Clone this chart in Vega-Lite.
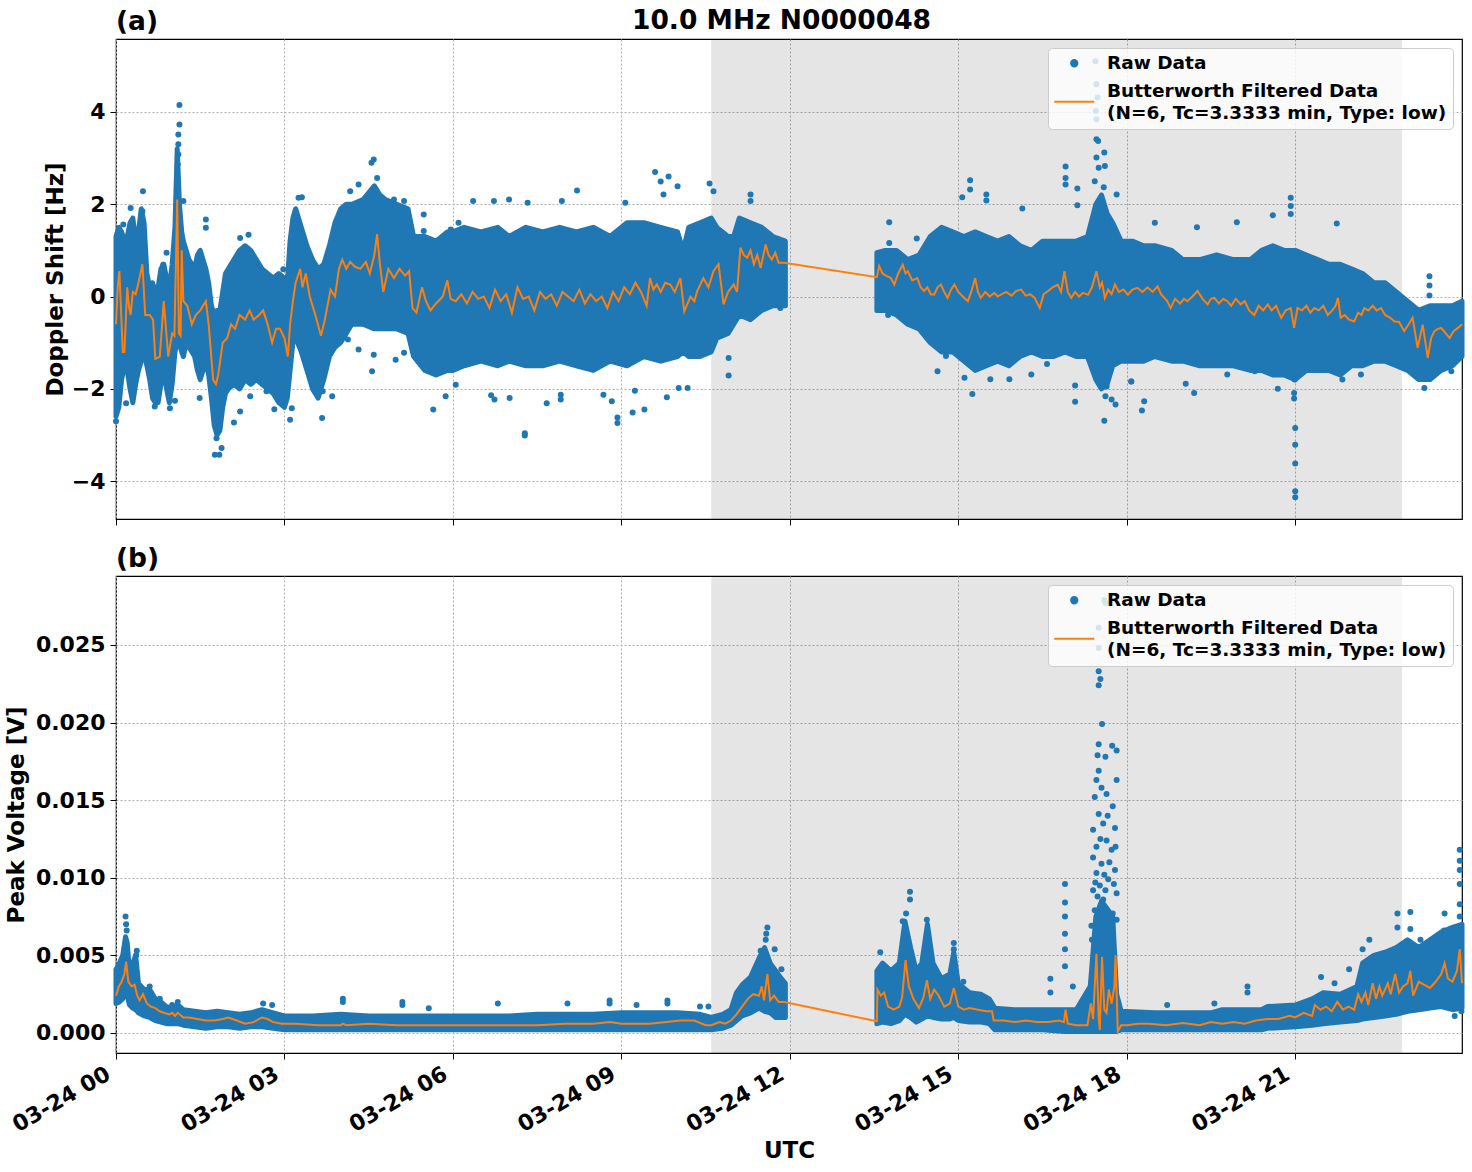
{
"$schema": "https://vega.github.io/schema/vega-lite/v6.json",
"background": "white",
"padding": {"left": 4, "top": 7, "right": 10, "bottom": 5},
"title": {"text": "10.0 MHz N0000048", "anchor": "middle", "dx": 46, "offset": -26.5, "fontSize": 26.5, "font": "DejaVu Sans", "fontWeight": "bold", "color": "black"},
"config": {
 "font": "DejaVu Sans",
 "view": {"stroke": "black", "strokeWidth": 1.2},
 "axis": {"labelFont": "DejaVu Sans", "labelFontWeight": "bold", "labelFontSize": 22, "labelColor": "black", "titleFont": "DejaVu Sans", "titleFontWeight": "bold", "titleFontSize": 23, "titleColor": "black", "tickColor": "black", "tickSize": 6, "tickWidth": 1, "domain": false, "grid": true, "gridColor": "#b0b0b0", "gridDash": [2, 2], "gridWidth": 1, "labelPadding": 5},
 "title": {"font": "DejaVu Sans", "fontWeight": "bold", "fontSize": 26.5, "color": "black"}
},
"datasets": {
 "shade": [{"a": 10.6, "b": 22.9}],
 "dop": [
  {"h":0.00,"lo":-2.6,"hi":1.3,"s":1},{"h":0.05,"lo":-2.4,"hi":1.5,"s":1},{"h":0.10,"lo":-1.8,"hi":1.4,"s":1},{"h":0.15,"lo":-1.5,"hi":1.2,"s":1},{"h":0.20,"lo":-1.6,"hi":1.3,"s":1},{"h":0.25,"lo":-2.0,"hi":1.6,"s":1},{"h":0.30,"lo":-2.3,"hi":1.7,"s":1},{"h":0.35,"lo":-1.9,"hi":1.2,"s":1},{"h":0.40,"lo":-1.6,"hi":1.4,"s":1},{"h":0.45,"lo":-1.4,"hi":1.9,"s":1},{"h":0.50,"lo":-1.2,"hi":1.6,"s":1},{"h":0.55,"lo":-1.5,"hi":0.5,"s":1},{"h":0.60,"lo":-1.8,"hi":0.2,"s":1},{"h":0.65,"lo":-2.2,"hi":0.3,"s":1},{"h":0.70,"lo":-2.3,"hi":0.1,"s":1},{"h":0.75,"lo":-2.3,"hi":0.2,"s":1},{"h":0.80,"lo":-1.9,"hi":0.6,"s":1},{"h":0.85,"lo":-1.6,"hi":0.7,"s":1},{"h":0.90,"lo":-2.0,"hi":0.4,"s":1},{"h":0.95,"lo":-2.3,"hi":0.2,"s":1},{"h":1.00,"lo":-1.9,"hi":0.7,"s":1},{"h":1.05,"lo":-1.2,"hi":1.5,"s":1},{"h":1.09,"lo":-1.0,"hi":3.2,"s":1},{"h":1.13,"lo":-1.0,"hi":2.0,"s":1},{"h":1.17,"lo":-1.2,"hi":1.4,"s":1},{"h":1.20,"lo":-1.3,"hi":1.2,"s":1},{"h":1.25,"lo":-1.0,"hi":1.0,"s":1},{"h":1.30,"lo":-1.1,"hi":0.8,"s":1},{"h":1.40,"lo":-1.3,"hi":0.6,"s":1},{"h":1.45,"lo":-1.6,"hi":0.9,"s":1},{"h":1.50,"lo":-1.8,"hi":1.0,"s":1},{"h":1.55,"lo":-1.6,"hi":0.8,"s":1},{"h":1.60,"lo":-1.4,"hi":0.6,"s":1},{"h":1.65,"lo":-1.7,"hi":0.3,"s":1},{"h":1.70,"lo":-2.2,"hi":-0.2,"s":1},{"h":1.75,"lo":-2.8,"hi":-0.4,"s":1},{"h":1.80,"lo":-3.0,"hi":-0.3,"s":1},{"h":1.85,"lo":-2.9,"hi":-0.3,"s":1},{"h":1.90,"lo":-2.4,"hi":0.1,"s":1},{"h":1.95,"lo":-2.1,"hi":0.5,"s":1},{"h":2.00,"lo":-2.0,"hi":0.6,"s":1},{"h":2.10,"lo":-1.9,"hi":0.8,"s":1},{"h":2.20,"lo":-2.0,"hi":1.0,"s":1},{"h":2.30,"lo":-1.8,"hi":1.1,"s":1},{"h":2.40,"lo":-1.9,"hi":1.0,"s":1},{"h":2.50,"lo":-1.8,"hi":0.8,"s":1},{"h":2.60,"lo":-1.9,"hi":0.6,"s":1},{"h":2.70,"lo":-2.0,"hi":0.5,"s":1},{"h":2.80,"lo":-2.1,"hi":0.4,"s":1},{"h":2.90,"lo":-2.3,"hi":0.5,"s":1},{"h":3.00,"lo":-2.4,"hi":0.4,"s":1},{"h":3.05,"lo":-2.2,"hi":0.3,"s":1},{"h":3.10,"lo":-1.6,"hi":1.2,"s":1},{"h":3.15,"lo":-1.0,"hi":1.7,"s":1},{"h":3.20,"lo":-0.9,"hi":1.9,"s":1},{"h":3.30,"lo":-1.2,"hi":1.5,"s":1},{"h":3.40,"lo":-1.6,"hi":1.1,"s":1},{"h":3.50,"lo":-2.0,"hi":0.8,"s":1},{"h":3.60,"lo":-2.2,"hi":0.6,"s":1},{"h":3.70,"lo":-1.8,"hi":0.7,"s":1},{"h":3.80,"lo":-1.3,"hi":1.1,"s":1},{"h":3.90,"lo":-1.1,"hi":1.6,"s":1},{"h":4.00,"lo":-1.0,"hi":1.9,"s":1},{"h":4.10,"lo":-0.8,"hi":2.0,"s":1},{"h":4.20,"lo":-0.6,"hi":2.0,"s":1},{"h":4.40,"lo":-0.6,"hi":2.1,"s":1},{"h":4.60,"lo":-0.7,"hi":2.4,"s":1},{"h":4.70,"lo":-0.7,"hi":2.2,"s":1},{"h":4.80,"lo":-0.7,"hi":2.1,"s":1},{"h":5.00,"lo":-0.7,"hi":2.0,"s":1},{"h":5.20,"lo":-0.8,"hi":1.9,"s":1},{"h":5.30,"lo":-1.3,"hi":1.3,"s":1},{"h":5.50,"lo":-1.6,"hi":1.3,"s":1},{"h":5.70,"lo":-1.7,"hi":1.2,"s":1},{"h":5.90,"lo":-1.6,"hi":1.4,"s":1},{"h":6.00,"lo":-1.6,"hi":1.4,"s":1},{"h":6.2,"lo":-1.5,"hi":1.5,"s":1},{"h":6.5,"lo":-1.4,"hi":1.4,"s":1},{"h":6.8,"lo":-1.5,"hi":1.5,"s":1},{"h":7.0,"lo":-1.4,"hi":1.3,"s":1},{"h":7.3,"lo":-1.5,"hi":1.5,"s":1},{"h":7.6,"lo":-1.5,"hi":1.4,"s":1},{"h":7.9,"lo":-1.4,"hi":1.5,"s":1},{"h":8.2,"lo":-1.5,"hi":1.4,"s":1},{"h":8.5,"lo":-1.6,"hi":1.5,"s":1},{"h":8.8,"lo":-1.4,"hi":1.3,"s":1},{"h":9.1,"lo":-1.5,"hi":1.6,"s":1},{"h":9.4,"lo":-1.3,"hi":1.6,"s":1},{"h":9.7,"lo":-1.4,"hi":1.5,"s":1},{"h":10.0,"lo":-1.3,"hi":1.4,"s":1},{"h":10.1,"lo":-1.2,"hi":1.0,"s":1},{"h":10.2,"lo":-1.3,"hi":1.5,"s":1},{"h":10.4,"lo":-1.3,"hi":1.6,"s":1},{"h":10.6,"lo":-1.2,"hi":1.7,"s":1},{"h":10.7,"lo":-0.9,"hi":1.5,"s":1},{"h":10.9,"lo":-0.8,"hi":1.3,"s":1},{"h":11.0,"lo":-0.6,"hi":1.3,"s":1},{"h":11.1,"lo":-0.4,"hi":1.7,"s":1},{"h":11.3,"lo":-0.5,"hi":1.6,"s":1},{"h":11.5,"lo":-0.3,"hi":1.5,"s":1},{"h":11.7,"lo":-0.2,"hi":1.3,"s":1},{"h":11.92,"lo":-0.2,"hi":1.2,"s":1},
  {"h":13.55,"lo":-0.3,"hi":0.95,"s":2},{"h":13.7,"lo":-0.3,"hi":1.0,"s":2},{"h":13.9,"lo":-0.4,"hi":1.0,"s":2},{"h":14.1,"lo":-0.6,"hi":0.8,"s":2},{"h":14.3,"lo":-0.7,"hi":0.9,"s":2},{"h":14.5,"lo":-1.0,"hi":1.3,"s":2},{"h":14.7,"lo":-1.2,"hi":1.5,"s":2},{"h":14.9,"lo":-1.2,"hi":1.4,"s":2},{"h":15.1,"lo":-1.4,"hi":1.3,"s":2},{"h":15.3,"lo":-1.6,"hi":1.4,"s":2},{"h":15.5,"lo":-1.5,"hi":1.3,"s":2},{"h":15.7,"lo":-1.4,"hi":1.2,"s":2},{"h":15.9,"lo":-1.5,"hi":1.3,"s":2},{"h":16.1,"lo":-1.3,"hi":1.1,"s":2},{"h":16.3,"lo":-1.2,"hi":1.0,"s":2},{"h":16.5,"lo":-1.3,"hi":1.2,"s":2},{"h":16.7,"lo":-1.3,"hi":1.2,"s":2},{"h":16.9,"lo":-1.2,"hi":1.2,"s":2},{"h":17.1,"lo":-1.3,"hi":1.2,"s":2},{"h":17.3,"lo":-1.3,"hi":1.3,"s":2},{"h":17.45,"lo":-1.8,"hi":2.0,"s":2},{"h":17.55,"lo":-2.0,"hi":2.2,"s":2},{"h":17.65,"lo":-1.9,"hi":1.8,"s":2},{"h":17.75,"lo":-1.5,"hi":1.6,"s":2},{"h":17.9,"lo":-1.4,"hi":1.2,"s":2},{"h":18.1,"lo":-1.4,"hi":1.2,"s":2},{"h":18.3,"lo":-1.4,"hi":1.1,"s":2},{"h":18.5,"lo":-1.3,"hi":1.1,"s":2},{"h":18.8,"lo":-1.4,"hi":1.0,"s":2},{"h":19.0,"lo":-1.4,"hi":0.8,"s":2},{"h":19.3,"lo":-1.5,"hi":0.8,"s":2},{"h":19.6,"lo":-1.5,"hi":0.9,"s":2},{"h":19.9,"lo":-1.5,"hi":0.8,"s":2},{"h":20.2,"lo":-1.6,"hi":0.8,"s":2},{"h":20.4,"lo":-1.6,"hi":1.0,"s":2},{"h":20.6,"lo":-1.7,"hi":1.1,"s":2},{"h":20.8,"lo":-1.7,"hi":1.0,"s":2},{"h":21.0,"lo":-1.8,"hi":1.0,"s":2},{"h":21.2,"lo":-1.6,"hi":0.9,"s":2},{"h":21.4,"lo":-1.6,"hi":0.8,"s":2},{"h":21.6,"lo":-1.6,"hi":0.7,"s":2},{"h":21.8,"lo":-1.7,"hi":0.7,"s":2},{"h":22.0,"lo":-1.5,"hi":0.6,"s":2},{"h":22.2,"lo":-1.5,"hi":0.5,"s":2},{"h":22.4,"lo":-1.4,"hi":0.3,"s":2},{"h":22.6,"lo":-1.4,"hi":0.3,"s":2},{"h":22.8,"lo":-1.5,"hi":0.1,"s":2},{"h":23.0,"lo":-1.6,"hi":-0.1,"s":2},{"h":23.2,"lo":-1.8,"hi":-0.3,"s":2},{"h":23.4,"lo":-1.8,"hi":-0.2,"s":2},{"h":23.6,"lo":-1.6,"hi":-0.2,"s":2},{"h":23.8,"lo":-1.5,"hi":-0.2,"s":2},{"h":23.97,"lo":-1.3,"hi":-0.1,"s":2}
 ],
 "dfilt": [
  {"h":0.0,"v":-0.6},{"h":0.03,"v":0.2},{"h":0.06,"v":0.55},{"h":0.09,"v":-0.3},{"h":0.12,"v":-1.2},{"h":0.15,"v":-1.2},{"h":0.2,"v":0.2},{"h":0.23,"v":-0.2},{"h":0.26,"v":-0.4},{"h":0.3,"v":0.1},{"h":0.35,"v":0.05},{"h":0.4,"v":0.3},{"h":0.47,"v":0.7},{"h":0.52,"v":-0.4},{"h":0.6,"v":-0.4},{"h":0.66,"v":-0.5},{"h":0.7,"v":-1.35},{"h":0.78,"v":-1.3},{"h":0.85,"v":-0.1},{"h":0.93,"v":-1.3},{"h":1.0,"v":-0.8},{"h":1.04,"v":-0.85},{"h":1.09,"v":2.1},{"h":1.12,"v":-0.8},{"h":1.15,"v":-0.85},{"h":1.17,"v":1.0},{"h":1.2,"v":-0.1},{"h":1.27,"v":-0.2},{"h":1.35,"v":-0.6},{"h":1.42,"v":-0.4},{"h":1.5,"v":-0.3},{"h":1.6,"v":-0.1},{"h":1.65,"v":-0.6},{"h":1.73,"v":-1.8},{"h":1.78,"v":-1.9},{"h":1.82,"v":-1.7},{"h":1.9,"v":-1.0},{"h":1.98,"v":-0.9},{"h":2.05,"v":-0.6},{"h":2.12,"v":-0.7},{"h":2.2,"v":-0.4},{"h":2.3,"v":-0.5},{"h":2.38,"v":-0.3},{"h":2.45,"v":-0.5},{"h":2.55,"v":-0.4},{"h":2.62,"v":-0.3},{"h":2.7,"v":-0.6},{"h":2.78,"v":-1.0},{"h":2.85,"v":-0.7},{"h":2.92,"v":-0.7},{"h":3.0,"v":-0.9},{"h":3.06,"v":-1.3},{"h":3.1,"v":-0.6},{"h":3.15,"v":-0.1},{"h":3.2,"v":0.3},{"h":3.28,"v":0.6},{"h":3.32,"v":0.2},{"h":3.38,"v":0.5},{"h":3.45,"v":0.0},{"h":3.55,"v":-0.4},{"h":3.65,"v":-0.85},{"h":3.72,"v":-0.5},{"h":3.82,"v":0.15},{"h":3.9,"v":0.0},{"h":3.97,"v":0.6},{"h":4.03,"v":0.8},{"h":4.1,"v":0.6},{"h":4.17,"v":0.75},{"h":4.25,"v":0.65},{"h":4.35,"v":0.6},{"h":4.45,"v":0.75},{"h":4.52,"v":0.5},{"h":4.6,"v":0.9},{"h":4.65,"v":1.35},{"h":4.7,"v":0.7},{"h":4.76,"v":0.1},{"h":4.85,"v":0.6},{"h":4.95,"v":0.4},{"h":5.05,"v":0.6},{"h":5.15,"v":0.45},{"h":5.22,"v":0.55},{"h":5.28,"v":-0.25},{"h":5.35,"v":-0.35},{"h":5.45,"v":0.2},{"h":5.52,"v":-0.1},{"h":5.6,"v":-0.3},{"h":5.7,"v":-0.15},{"h":5.82,"v":0.0},{"h":5.9,"v":0.35},{"h":5.96,"v":-0.05},{"h":6.05,"v":-0.1},
  {"h":6.15,"v":0.05},{"h":6.25,"v":-0.15},{"h":6.35,"v":0.1},{"h":6.45,"v":-0.05},{"h":6.55,"v":0.0},{"h":6.65,"v":-0.25},{"h":6.75,"v":0.15},{"h":6.85,"v":-0.1},{"h":6.95,"v":0.05},{"h":7.05,"v":-0.35},{"h":7.15,"v":0.2},{"h":7.25,"v":-0.05},{"h":7.35,"v":0.0},{"h":7.45,"v":-0.3},{"h":7.55,"v":0.1},{"h":7.65,"v":-0.05},{"h":7.75,"v":0.05},{"h":7.85,"v":-0.2},{"h":7.95,"v":0.1},{"h":8.05,"v":0.0},{"h":8.15,"v":-0.1},{"h":8.25,"v":0.15},{"h":8.35,"v":-0.15},{"h":8.45,"v":0.05},{"h":8.55,"v":-0.1},{"h":8.65,"v":0.0},{"h":8.75,"v":-0.25},{"h":8.85,"v":0.1},{"h":8.95,"v":-0.1},{"h":9.05,"v":0.2},{"h":9.15,"v":0.05},{"h":9.25,"v":0.3},{"h":9.35,"v":0.1},{"h":9.45,"v":-0.2},{"h":9.51,"v":0.4},{"h":9.57,"v":0.15},{"h":9.63,"v":0.26},{"h":9.7,"v":0.1},{"h":9.78,"v":0.3},{"h":9.87,"v":0.26},{"h":9.95,"v":0.1},{"h":10.05,"v":0.4},{"h":10.12,"v":-0.32},{"h":10.23,"v":0.0},{"h":10.3,"v":-0.1},{"h":10.35,"v":0.12},{"h":10.46,"v":0.4},{"h":10.55,"v":0.2},{"h":10.64,"v":0.55},{"h":10.73,"v":0.7},{"h":10.82,"v":-0.17},{"h":10.9,"v":0.1},{"h":11.0,"v":0.26},{"h":11.06,"v":0.1},{"h":11.12,"v":1.06},{"h":11.18,"v":0.9},{"h":11.24,"v":0.84},{"h":11.3,"v":1.0},{"h":11.36,"v":0.7},{"h":11.42,"v":0.9},{"h":11.48,"v":0.62},{"h":11.57,"v":1.13},{"h":11.62,"v":0.9},{"h":11.68,"v":0.8},{"h":11.74,"v":0.95},{"h":11.8,"v":0.73},{"h":11.9,"v":0.73},
  {"h":13.55,"v":0.42},{"h":13.59,"v":0.66},{"h":13.65,"v":0.5},{"h":13.72,"v":0.45},{"h":13.8,"v":0.4},{"h":13.86,"v":0.26},{"h":13.93,"v":0.5},{"h":14.01,"v":0.69},{"h":14.06,"v":0.5},{"h":14.1,"v":0.55},{"h":14.18,"v":0.35},{"h":14.27,"v":0.4},{"h":14.33,"v":0.2},{"h":14.39,"v":0.12},{"h":14.45,"v":0.2},{"h":14.51,"v":0.05},{"h":14.57,"v":0.04},{"h":14.63,"v":0.2},{"h":14.69,"v":0.26},{"h":14.75,"v":0.1},{"h":14.81,"v":-0.03},{"h":14.87,"v":0.15},{"h":14.93,"v":0.26},{"h":15.0,"v":0.1},{"h":15.08,"v":0.0},{"h":15.17,"v":-0.1},{"h":15.23,"v":0.1},{"h":15.3,"v":0.4},{"h":15.35,"v":0.1},{"h":15.4,"v":-0.03},{"h":15.48,"v":0.1},{"h":15.56,"v":0.0},{"h":15.64,"v":0.08},{"h":15.7,"v":0.0},{"h":15.76,"v":0.04},{"h":15.85,"v":0.1},{"h":15.95,"v":0.02},{"h":16.03,"v":0.12},{"h":16.12,"v":0.15},{"h":16.2,"v":0.02},{"h":16.28,"v":0.05},{"h":16.36,"v":-0.03},{"h":16.45,"v":-0.25},{"h":16.52,"v":0.05},{"h":16.6,"v":0.12},{"h":16.68,"v":0.2},{"h":16.77,"v":0.26},{"h":16.83,"v":0.1},{"h":16.89,"v":0.55},{"h":16.95,"v":0.1},{"h":17.01,"v":-0.03},{"h":17.08,"v":0.1},{"h":17.15,"v":0.0},{"h":17.22,"v":0.08},{"h":17.31,"v":0.04},{"h":17.38,"v":0.2},{"h":17.46,"v":0.55},{"h":17.52,"v":0.2},{"h":17.56,"v":0.3},{"h":17.61,"v":-0.03},{"h":17.67,"v":0.15},{"h":17.73,"v":0.05},{"h":17.79,"v":0.26},{"h":17.86,"v":0.1},{"h":17.94,"v":0.15},{"h":18.02,"v":0.04},{"h":18.1,"v":0.15},{"h":18.19,"v":0.19},{"h":18.28,"v":0.1},{"h":18.37,"v":0.2},{"h":18.46,"v":0.1},{"h":18.55,"v":0.22},{"h":18.61,"v":0.05},{"h":18.67,"v":-0.03},{"h":18.72,"v":-0.1},{"h":18.78,"v":-0.25},{"h":18.86,"v":-0.05},{"h":18.95,"v":-0.15},{"h":19.02,"v":-0.05},{"h":19.08,"v":-0.1},{"h":19.17,"v":0.0},{"h":19.26,"v":0.12},{"h":19.35,"v":-0.05},{"h":19.44,"v":-0.17},{"h":19.5,"v":-0.05},{"h":19.56,"v":-0.03},{"h":19.64,"v":-0.15},{"h":19.72,"v":-0.05},{"h":19.79,"v":-0.1},{"h":19.86,"v":-0.2},{"h":19.94,"v":-0.05},{"h":20.03,"v":-0.17},{"h":20.1,"v":-0.1},{"h":20.18,"v":-0.3},{"h":20.27,"v":-0.4},{"h":20.35,"v":-0.2},{"h":20.43,"v":-0.3},{"h":20.51,"v":-0.17},{"h":20.58,"v":-0.3},{"h":20.66,"v":-0.2},{"h":20.75,"v":-0.46},{"h":20.83,"v":-0.3},{"h":20.92,"v":-0.25},{"h":20.98,"v":-0.68},{"h":21.04,"v":-0.25},{"h":21.12,"v":-0.3},{"h":21.2,"v":-0.2},{"h":21.27,"v":-0.35},{"h":21.34,"v":-0.25},{"h":21.42,"v":-0.3},{"h":21.5,"v":-0.2},{"h":21.58,"v":-0.4},{"h":21.66,"v":-0.3},{"h":21.72,"v":-0.2},{"h":21.76,"v":-0.03},{"h":21.81,"v":-0.46},{"h":21.88,"v":-0.4},{"h":21.96,"v":-0.5},{"h":22.05,"v":-0.54},{"h":22.12,"v":-0.35},{"h":22.18,"v":-0.4},{"h":22.23,"v":-0.25},{"h":22.3,"v":-0.3},{"h":22.38,"v":-0.2},{"h":22.45,"v":-0.3},{"h":22.53,"v":-0.25},{"h":22.6,"v":-0.4},{"h":22.68,"v":-0.45},{"h":22.77,"v":-0.54},{"h":22.85,"v":-0.55},{"h":22.94,"v":-0.75},{"h":23.02,"v":-0.6},{"h":23.09,"v":-0.46},{"h":23.18,"v":-1.11},{"h":23.27,"v":-0.61},{"h":23.36,"v":-1.33},{"h":23.42,"v":-0.9},{"h":23.48,"v":-0.75},{"h":23.54,"v":-0.7},{"h":23.6,"v":-0.68},{"h":23.68,"v":-0.8},{"h":23.75,"v":-0.9},{"h":23.82,"v":-0.75},{"h":23.9,"v":-0.68},{"h":23.97,"v":-0.6}
 ],
 "dout": [
  {"h":0.48,"v":2.28},{"h":0.47,"v":1.85},{"h":0.26,"v":1.92},{"h":0.13,"v":1.56},{"h":1.13,"v":4.15},{"h":1.13,"v":3.73},{"h":1.11,"v":3.51},{"h":1.11,"v":3.3},{"h":1.11,"v":3.08},{"h":1.1,"v":2.86},{"h":1.2,"v":2.07},{"h":1.6,"v":1.67},{"h":1.6,"v":1.49},{"h":0.84,"v":0.69},{"h":0.9,"v":0.95},{"h":1.05,"v":-2.26},{"h":0.96,"v":-2.42},{"h":0.69,"v":-2.38},{"h":0.18,"v":-2.31},{"h":0.0,"v":-2.7},{"h":1.76,"v":-3.43},{"h":1.84,"v":-3.43},{"h":1.88,"v":-3.28},{"h":1.79,"v":-3.07},{"h":1.49,"v":-2.2},{"h":2.1,"v":-2.73},{"h":2.21,"v":-2.49},{"h":2.39,"v":-2.16},{"h":2.68,"v":-2.05},{"h":2.82,"v":-2.44},{"h":3.1,"v":-2.67},{"h":3.13,"v":-2.42},{"h":3.67,"v":-2.63},{"h":3.68,"v":-2.05},{"h":3.85,"v":-2.16},{"h":2.21,"v":1.27},{"h":2.36,"v":1.34},{"h":2.98,"v":0.59},{"h":3.25,"v":2.14},{"h":3.31,"v":2.15},{"h":4.17,"v":2.28},{"h":4.32,"v":2.43},{"h":4.55,"v":2.9},{"h":4.59,"v":2.97},{"h":4.65,"v":2.57},{"h":4.95,"v":2.1},{"h":5.13,"v":2.07},{"h":5.48,"v":1.78},{"h":5.48,"v":1.42},{"h":5.96,"v":1.45},{"h":6.1,"v":1.6},{"h":4.13,"v":-0.93},{"h":4.32,"v":-1.15},{"h":4.56,"v":-1.62},{"h":4.59,"v":-1.26},{"h":4.98,"v":-1.37},{"h":5.13,"v":-1.22},{"h":5.65,"v":-2.45},{"h":5.87,"v":-2.16},{"h":5.51,"v":-1.55},
  {"h":6.36,"v":2.07},{"h":6.73,"v":2.07},{"h":7.0,"v":2.1},{"h":7.33,"v":2.03},{"h":8.21,"v":2.3},{"h":7.94,"v":2.07},{"h":9.07,"v":2.03},{"h":9.6,"v":2.7},{"h":9.7,"v":2.49},{"h":9.84,"v":2.6},{"h":10.0,"v":2.39},{"h":9.75,"v":2.21},{"h":10.57,"v":2.45},{"h":10.64,"v":2.28},{"h":11.3,"v":2.21},{"h":11.3,"v":2.07},{"h":7.28,"v":-2.96},{"h":7.28,"v":-3.01},{"h":6.68,"v":-2.14},{"h":6.74,"v":-2.23},{"h":7.01,"v":-2.2},{"h":7.67,"v":-2.31},{"h":7.92,"v":-2.13},{"h":7.92,"v":-2.23},{"h":8.68,"v":-2.13},{"h":8.83,"v":-2.27},{"h":8.93,"v":-2.62},{"h":8.93,"v":-2.74},{"h":9.2,"v":-2.51},{"h":9.41,"v":-2.45},{"h":9.81,"v":-2.18},{"h":10.02,"v":-1.98},{"h":10.18,"v":-1.98},{"h":10.91,"v":-1.71},{"h":10.91,"v":-1.33},{"h":11.68,"v":-0.14},{"h":11.83,"v":-0.25},{"h":9.24,"v":-2.04},{"h":6.05,"v":-1.91},
  {"h":13.77,"v":1.61},{"h":13.77,"v":1.16},{"h":14.26,"v":1.26},{"h":14.24,"v":-0.61},{"h":13.75,"v":-0.4},{"h":15.07,"v":2.15},{"h":15.21,"v":2.52},{"h":15.21,"v":2.32},{"h":15.5,"v":2.21},{"h":15.5,"v":2.08},{"h":16.14,"v":1.91},{"h":16.91,"v":2.82},{"h":16.91,"v":2.57},{"h":16.91,"v":2.43},{"h":17.12,"v":2.34},{"h":17.12,"v":1.98},{"h":17.82,"v":2.21},{"h":17.46,"v":3.41},{"h":17.49,"v":3.37},{"h":17.46,"v":3.01},{"h":17.6,"v":3.12},{"h":17.61,"v":2.83},{"h":17.5,"v":2.79},{"h":17.43,"v":2.5},{"h":17.59,"v":2.37},{"h":17.48,"v":4.31},{"h":17.45,"v":4.02},{"h":17.44,"v":5.1},{"h":17.46,"v":4.6},{"h":17.46,"v":3.84},{"h":15.25,"v":-2.11},{"h":15.11,"v":-1.76},{"h":15.57,"v":-1.79},{"h":15.91,"v":-1.79},{"h":16.3,"v":-1.69},{"h":16.58,"v":-1.46},{"h":17.08,"v":-1.93},{"h":17.08,"v":-2.28},{"h":17.6,"v":-2.69},{"h":17.62,"v":-2.16},{"h":17.73,"v":-2.23},{"h":17.8,"v":-2.34},{"h":17.64,"v":-1.95},{"h":18.08,"v":-1.84},{"h":14.63,"v":-1.62},{"h":14.78,"v":-1.29},
  {"h":18.5,"v":1.6},{"h":19.25,"v":1.5},{"h":19.96,"v":1.61},{"h":20.6,"v":1.76},{"h":20.92,"v":2.14},{"h":20.92,"v":1.96},{"h":20.92,"v":1.79},{"h":21.74,"v":1.58},{"h":23.39,"v":0.44},{"h":23.39,"v":0.24},{"h":23.39,"v":0.02},{"h":20.98,"v":-2.09},{"h":20.98,"v":-2.21},{"h":21.0,"v":-2.85},{"h":21.0,"v":-3.21},{"h":21.0,"v":-3.62},{"h":21.0,"v":-4.22},{"h":21.0,"v":-4.35},{"h":20.99,"v":-1.8},{"h":18.31,"v":-2.27},{"h":18.27,"v":-2.47},{"h":19.2,"v":-2.09},{"h":19.05,"v":-1.89},{"h":20.69,"v":-2.0},{"h":21.84,"v":-1.8},{"h":22.17,"v":-1.69},{"h":23.3,"v":-1.98},{"h":23.78,"v":-1.62},{"h":18.08,"v":-1.84},{"h":19.79,"v":-1.69},{"h":20.28,"v":-1.62}
 ],
 "vol": [
  {"h":0.00,"lo":0.0019,"hi":0.0041,"s":1},{"h":0.06,"lo":0.0020,"hi":0.0045,"s":1},{"h":0.12,"lo":0.0022,"hi":0.0050,"s":1},{"h":0.17,"lo":0.0026,"hi":0.0062,"s":1},{"h":0.20,"lo":0.0024,"hi":0.0058,"s":1},{"h":0.24,"lo":0.0018,"hi":0.0040,"s":1},{"h":0.30,"lo":0.0016,"hi":0.0045,"s":1},{"h":0.35,"lo":0.0015,"hi":0.0050,"s":1},{"h":0.40,"lo":0.0013,"hi":0.0032,"s":1},{"h":0.50,"lo":0.0011,"hi":0.0028,"s":1},{"h":0.60,"lo":0.0010,"hi":0.0028,"s":1},{"h":0.70,"lo":0.0008,"hi":0.0022,"s":1},{"h":0.80,"lo":0.0007,"hi":0.0020,"s":1},{"h":0.90,"lo":0.0006,"hi":0.0017,"s":1},{"h":1.00,"lo":0.0006,"hi":0.0016,"s":1},{"h":1.10,"lo":0.0006,"hi":0.0018,"s":1},{"h":1.20,"lo":0.0005,"hi":0.0015,"s":1},{"h":1.40,"lo":0.0004,"hi":0.0014,"s":1},{"h":1.60,"lo":0.0003,"hi":0.0013,"s":1},{"h":1.80,"lo":0.0004,"hi":0.0014,"s":1},{"h":2.00,"lo":0.0004,"hi":0.0013,"s":1},{"h":2.20,"lo":0.0003,"hi":0.0012,"s":1},{"h":2.40,"lo":0.0004,"hi":0.0013,"s":1},{"h":2.60,"lo":0.0004,"hi":0.0015,"s":1},{"h":2.80,"lo":0.0003,"hi":0.0013,"s":1},{"h":3.00,"lo":0.0002,"hi":0.0011,"s":1},{"h":3.5,"lo":0.0002,"hi":0.0011,"s":1},{"h":4.0,"lo":0.0002,"hi":0.0012,"s":1},{"h":4.5,"lo":0.0002,"hi":0.0011,"s":1},{"h":5.0,"lo":0.0002,"hi":0.0011,"s":1},{"h":5.5,"lo":0.0002,"hi":0.0011,"s":1},{"h":6.0,"lo":0.0002,"hi":0.0011,"s":1},{"h":6.5,"lo":0.0002,"hi":0.0011,"s":1},{"h":7.0,"lo":0.0002,"hi":0.0011,"s":1},{"h":7.5,"lo":0.0002,"hi":0.0012,"s":1},{"h":8.0,"lo":0.0002,"hi":0.0012,"s":1},{"h":8.5,"lo":0.0002,"hi":0.0012,"s":1},{"h":9.0,"lo":0.0002,"hi":0.0013,"s":1},{"h":9.5,"lo":0.0002,"hi":0.0013,"s":1},{"h":10.0,"lo":0.0002,"hi":0.0013,"s":1},{"h":10.4,"lo":0.0002,"hi":0.0012,"s":1},{"h":10.6,"lo":0.0002,"hi":0.0010,"s":1},{"h":10.8,"lo":0.0003,"hi":0.0012,"s":1},{"h":10.95,"lo":0.0005,"hi":0.0015,"s":1},{"h":11.05,"lo":0.0008,"hi":0.0026,"s":1},{"h":11.15,"lo":0.0011,"hi":0.0031,"s":1},{"h":11.3,"lo":0.0013,"hi":0.0036,"s":1},{"h":11.45,"lo":0.0016,"hi":0.0048,"s":1},{"h":11.55,"lo":0.0014,"hi":0.0055,"s":1},{"h":11.65,"lo":0.0013,"hi":0.0045,"s":1},{"h":11.75,"lo":0.0010,"hi":0.0040,"s":1},{"h":11.85,"lo":0.0010,"hi":0.0035,"s":1},{"h":11.92,"lo":0.0010,"hi":0.0032,"s":1},
  {"h":13.55,"lo":0.0006,"hi":0.0040,"s":2},{"h":13.65,"lo":0.0007,"hi":0.0045,"s":2},{"h":13.8,"lo":0.0006,"hi":0.0040,"s":2},{"h":13.95,"lo":0.0008,"hi":0.0045,"s":2},{"h":14.05,"lo":0.0012,"hi":0.0072,"s":2},{"h":14.15,"lo":0.0010,"hi":0.0055,"s":2},{"h":14.25,"lo":0.0007,"hi":0.0040,"s":2},{"h":14.35,"lo":0.0009,"hi":0.0045,"s":2},{"h":14.45,"lo":0.0011,"hi":0.0070,"s":2},{"h":14.55,"lo":0.0010,"hi":0.0045,"s":2},{"h":14.7,"lo":0.0009,"hi":0.0035,"s":2},{"h":14.85,"lo":0.0009,"hi":0.0038,"s":2},{"h":14.92,"lo":0.0010,"hi":0.0052,"s":2},{"h":15.0,"lo":0.0008,"hi":0.0032,"s":2},{"h":15.2,"lo":0.0007,"hi":0.0026,"s":2},{"h":15.4,"lo":0.0007,"hi":0.0025,"s":2},{"h":15.55,"lo":0.0006,"hi":0.0022,"s":2},{"h":15.65,"lo":0.0002,"hi":0.0016,"s":2},{"h":16.0,"lo":0.0002,"hi":0.0015,"s":2},{"h":16.5,"lo":0.0002,"hi":0.0015,"s":2},{"h":16.9,"lo":0.0001,"hi":0.0015,"s":2},{"h":17.1,"lo":0.0001,"hi":0.0015,"s":2},{"h":17.35,"lo":0.0001,"hi":0.0030,"s":2},{"h":17.45,"lo":0.0001,"hi":0.0075,"s":2},{"h":17.55,"lo":0.0001,"hi":0.0085,"s":2},{"h":17.65,"lo":0.0001,"hi":0.0080,"s":2},{"h":17.75,"lo":0.0001,"hi":0.0075,"s":2},{"h":17.82,"lo":0.0001,"hi":0.0025,"s":2},{"h":17.9,"lo":0.0002,"hi":0.0014,"s":2},{"h":18.5,"lo":0.0002,"hi":0.0013,"s":2},{"h":19.0,"lo":0.0002,"hi":0.0013,"s":2},{"h":19.5,"lo":0.0002,"hi":0.0013,"s":2},{"h":19.7,"lo":0.0002,"hi":0.0015,"s":2},{"h":20.1,"lo":0.0002,"hi":0.0015,"s":2},{"h":20.4,"lo":0.0002,"hi":0.0015,"s":2},{"h":20.5,"lo":0.0003,"hi":0.0017,"s":2},{"h":21.0,"lo":0.0004,"hi":0.0018,"s":2},{"h":21.3,"lo":0.0005,"hi":0.0022,"s":2},{"h":21.5,"lo":0.0006,"hi":0.0026,"s":2},{"h":21.8,"lo":0.0007,"hi":0.0025,"s":2},{"h":22.1,"lo":0.0008,"hi":0.0030,"s":2},{"h":22.2,"lo":0.0009,"hi":0.0045,"s":2},{"h":22.4,"lo":0.0010,"hi":0.0050,"s":2},{"h":22.6,"lo":0.0011,"hi":0.0052,"s":2},{"h":22.8,"lo":0.0012,"hi":0.0055,"s":2},{"h":23.0,"lo":0.0014,"hi":0.0060,"s":2},{"h":23.2,"lo":0.0015,"hi":0.0055,"s":2},{"h":23.4,"lo":0.0016,"hi":0.0060,"s":2},{"h":23.6,"lo":0.0017,"hi":0.0065,"s":2},{"h":23.8,"lo":0.0015,"hi":0.0068,"s":2},{"h":23.97,"lo":0.0016,"hi":0.0070,"s":2}
 ],
 "vfilt": [
  {"h":0.0,"v":0.0024},{"h":0.05,"v":0.0030},{"h":0.1,"v":0.0033},{"h":0.15,"v":0.0038},{"h":0.18,"v":0.0046},{"h":0.22,"v":0.0033},{"h":0.28,"v":0.0030},{"h":0.33,"v":0.0031},{"h":0.38,"v":0.0024},{"h":0.42,"v":0.0021},{"h":0.48,"v":0.0025},{"h":0.55,"v":0.0019},{"h":0.62,"v":0.0017},{"h":0.7,"v":0.0016},{"h":0.78,"v":0.0014},{"h":0.85,"v":0.0013},{"h":0.95,"v":0.0012},{"h":1.0,"v":0.0013},{"h":1.05,"v":0.0011},{"h":1.1,"v":0.0013},{"h":1.2,"v":0.0010},{"h":1.3,"v":0.0010},{"h":1.45,"v":0.0009},{"h":1.6,"v":0.0008},{"h":1.75,"v":0.0008},{"h":1.9,"v":0.0009},{"h":2.0,"v":0.0010},{"h":2.15,"v":0.0008},{"h":2.3,"v":0.0006},{"h":2.45,"v":0.0007},{"h":2.6,"v":0.0010},{"h":2.7,"v":0.0009},{"h":2.8,"v":0.0007},{"h":2.95,"v":0.0006},{"h":3.2,"v":0.0006},{"h":3.6,"v":0.0005},{"h":4.0,"v":0.0005},{"h":4.04,"v":0.0006},{"h":4.1,"v":0.0005},{"h":4.5,"v":0.0006},{"h":5.0,"v":0.0005},{"h":5.5,"v":0.0005},{"h":6.0,"v":0.0005},{"h":6.5,"v":0.0005},{"h":7.0,"v":0.0005},{"h":7.5,"v":0.0005},{"h":8.0,"v":0.0006},{"h":8.5,"v":0.0006},{"h":8.8,"v":0.0007},{"h":9.0,"v":0.0006},{"h":9.5,"v":0.0006},{"h":9.8,"v":0.0007},{"h":10.05,"v":0.0008},{"h":10.3,"v":0.0008},{"h":10.5,"v":0.0005},{"h":10.6,"v":0.0005},{"h":10.75,"v":0.0007},{"h":10.85,"v":0.0006},{"h":10.95,"v":0.0008},{"h":11.05,"v":0.0012},{"h":11.15,"v":0.0017},{"h":11.25,"v":0.0022},{"h":11.35,"v":0.0025},{"h":11.45,"v":0.0024},{"h":11.5,"v":0.0030},{"h":11.54,"v":0.0021},{"h":11.6,"v":0.0038},{"h":11.65,"v":0.0021},{"h":11.72,"v":0.0024},{"h":11.8,"v":0.0020},{"h":11.9,"v":0.0020},
  {"h":13.55,"v":0.00075},{"h":13.56,"v":0.0028},{"h":13.62,"v":0.0024},{"h":13.68,"v":0.0026},{"h":13.75,"v":0.0017},{"h":13.85,"v":0.0015},{"h":13.95,"v":0.0017},{"h":14.0,"v":0.0023},{"h":14.06,"v":0.0047},{"h":14.12,"v":0.0030},{"h":14.2,"v":0.0022},{"h":14.3,"v":0.0016},{"h":14.38,"v":0.0023},{"h":14.44,"v":0.0034},{"h":14.5,"v":0.0022},{"h":14.57,"v":0.0028},{"h":14.65,"v":0.0024},{"h":14.75,"v":0.0017},{"h":14.85,"v":0.0019},{"h":14.92,"v":0.0029},{"h":15.0,"v":0.0017},{"h":15.1,"v":0.0015},{"h":15.2,"v":0.0016},{"h":15.35,"v":0.0015},{"h":15.5,"v":0.0014},{"h":15.6,"v":0.0014},{"h":15.63,"v":0.0008},{"h":15.8,"v":0.0008},{"h":16.0,"v":0.0007},{"h":16.2,"v":0.0008},{"h":16.4,"v":0.0007},{"h":16.6,"v":0.0007},{"h":16.8,"v":0.0008},{"h":16.88,"v":0.0007},{"h":16.91,"v":0.0015},{"h":16.95,"v":0.0006},{"h":17.1,"v":0.0005},{"h":17.3,"v":0.0005},{"h":17.36,"v":0.0019},{"h":17.4,"v":0.0009},{"h":17.46,"v":0.0051},{"h":17.5,"v":0.0010},{"h":17.52,"v":0.0002},{"h":17.56,"v":0.0049},{"h":17.6,"v":0.0015},{"h":17.64,"v":0.0013},{"h":17.68,"v":0.0028},{"h":17.73,"v":0.0019},{"h":17.78,"v":0.0030},{"h":17.8,"v":0.0050},{"h":17.84,"v":0.0001},{"h":17.9,"v":0.0005},{"h":18.0,"v":0.0005},{"h":18.2,"v":0.0006},{"h":18.4,"v":0.0006},{"h":18.7,"v":0.0005},{"h":19.0,"v":0.00065},{"h":19.3,"v":0.0005},{"h":19.5,"v":0.0007},{"h":19.7,"v":0.0006},{"h":19.9,"v":0.0007},{"h":20.1,"v":0.0006},{"h":20.3,"v":0.0008},{"h":20.5,"v":0.0009},{"h":20.7,"v":0.0009},{"h":20.9,"v":0.0011},{"h":21.0,"v":0.0010},{"h":21.15,"v":0.0013},{"h":21.3,"v":0.0011},{"h":21.35,"v":0.0018},{"h":21.45,"v":0.0015},{"h":21.55,"v":0.0017},{"h":21.65,"v":0.0014},{"h":21.75,"v":0.0020},{"h":21.85,"v":0.0015},{"h":21.95,"v":0.0017},{"h":22.05,"v":0.0015},{"h":22.12,"v":0.0025},{"h":22.18,"v":0.0020},{"h":22.25,"v":0.0026},{"h":22.3,"v":0.0018},{"h":22.38,"v":0.0032},{"h":22.44,"v":0.0022},{"h":22.5,"v":0.0030},{"h":22.55,"v":0.0024},{"h":22.65,"v":0.0032},{"h":22.7,"v":0.0025},{"h":22.78,"v":0.0038},{"h":22.85,"v":0.0026},{"h":22.92,"v":0.0030},{"h":23.0,"v":0.0032},{"h":23.05,"v":0.0040},{"h":23.1,"v":0.0024},{"h":23.2,"v":0.0033},{"h":23.3,"v":0.0031},{"h":23.4,"v":0.0029},{"h":23.5,"v":0.0033},{"h":23.6,"v":0.0038},{"h":23.66,"v":0.0045},{"h":23.72,"v":0.0035},{"h":23.8,"v":0.0033},{"h":23.88,"v":0.0040},{"h":23.93,"v":0.0054},{"h":23.97,"v":0.0032}
 ],
 "vout": [
  {"h":0.17,"v":0.0075},{"h":0.18,"v":0.0070},{"h":0.19,"v":0.0066},{"h":0.37,"v":0.0053},{"h":0.36,"v":0.0050},{"h":0.6,"v":0.0030},{"h":0.78,"v":0.0022},{"h":1.0,"v":0.0018},{"h":1.1,"v":0.0020},{"h":2.62,"v":0.0019},{"h":2.78,"v":0.0018},{"h":4.04,"v":0.0022},{"h":4.04,"v":0.0020},{"h":5.1,"v":0.0020},{"h":5.1,"v":0.0018},{"h":5.57,"v":0.0016},{"h":6.8,"v":0.0019},{"h":8.04,"v":0.0019},{"h":8.79,"v":0.0021},{"h":8.79,"v":0.0019},{"h":9.27,"v":0.0018},{"h":9.82,"v":0.0021},{"h":9.82,"v":0.0019},{"h":10.4,"v":0.0017},{"h":10.55,"v":0.0017},{"h":11.6,"v":0.0068},{"h":11.58,"v":0.0064},{"h":11.48,"v":0.0053},{"h":11.73,"v":0.0054},{"h":11.85,"v":0.0041},{"h":11.33,"v":0.0034},{"h":11.57,"v":0.0060},
  {"h":13.61,"v":0.0052},{"h":14.14,"v":0.0091},{"h":14.14,"v":0.0086},{"h":14.07,"v":0.0077},{"h":14.01,"v":0.0072},{"h":14.44,"v":0.0073},{"h":14.44,"v":0.0064},{"h":14.92,"v":0.0058},{"h":14.92,"v":0.0054},{"h":15.09,"v":0.0033},{"h":16.64,"v":0.0035},{"h":16.64,"v":0.0026},{"h":16.9,"v":0.0096},{"h":16.9,"v":0.0084},{"h":16.9,"v":0.0075},{"h":16.9,"v":0.0064},{"h":16.9,"v":0.0054},{"h":16.9,"v":0.0043},{"h":17.04,"v":0.0030},
  {"h":17.6,"v":0.0279},{"h":17.62,"v":0.0277},{"h":17.5,"v":0.0261},{"h":17.5,"v":0.0248},{"h":17.5,"v":0.0233},{"h":17.53,"v":0.0228},{"h":17.5,"v":0.0224},{"h":17.56,"v":0.0199},{"h":17.5,"v":0.0186},{"h":17.74,"v":0.0185},{"h":17.82,"v":0.0182},{"h":17.48,"v":0.0179},{"h":17.62,"v":0.0178},{"h":17.5,"v":0.0169},{"h":17.82,"v":0.0163},{"h":17.46,"v":0.0163},{"h":17.55,"v":0.0158},{"h":17.64,"v":0.0154},{"h":17.43,"v":0.0152},{"h":17.75,"v":0.0146},{"h":17.5,"v":0.0141},{"h":17.58,"v":0.0135},{"h":17.79,"v":0.0132},{"h":17.4,"v":0.0131},{"h":17.64,"v":0.0124},{"h":17.46,"v":0.0120},{"h":17.73,"v":0.0118},{"h":17.4,"v":0.0113},{"h":17.55,"v":0.0109},{"h":17.79,"v":0.0105},{"h":17.46,"v":0.0103},{"h":17.67,"v":0.0099},{"h":17.4,"v":0.0092},{"h":17.82,"v":0.0090},{"h":17.58,"v":0.0086},{"h":17.43,"v":0.0079},{"h":17.75,"v":0.0077},{"h":17.37,"v":0.0069},{"h":17.82,"v":0.0073},{"h":17.55,"v":0.0064},{"h":17.7,"v":0.0060},{"h":17.38,"v":0.0060},{"h":17.52,"v":0.0095},{"h":17.6,"v":0.0102},{"h":17.69,"v":0.0110},{"h":17.77,"v":0.0096},{"h":17.44,"v":0.0097},{"h":17.53,"v":0.0125},{"h":17.66,"v":0.0140},{"h":17.8,"v":0.0120},{"h":17.48,"v":0.0088},{"h":17.62,"v":0.0092},
  {"h":20.15,"v":0.0030},{"h":20.15,"v":0.0026},{"h":19.56,"v":0.0019},{"h":18.72,"v":0.0018},{"h":21.46,"v":0.0036},{"h":21.7,"v":0.0032},{"h":21.96,"v":0.0041},{"h":22.2,"v":0.0054},{"h":22.32,"v":0.0060},{"h":22.41,"v":0.0049},{"h":22.82,"v":0.0077},{"h":22.82,"v":0.0068},{"h":23.05,"v":0.0078},{"h":23.05,"v":0.0067},{"h":23.23,"v":0.0060},{"h":23.41,"v":0.0053},{"h":23.66,"v":0.0077},{"h":23.65,"v":0.0066},{"h":23.93,"v":0.0118},{"h":23.93,"v":0.0111},{"h":23.93,"v":0.0105},{"h":23.93,"v":0.0096},{"h":23.93,"v":0.0083},{"h":23.93,"v":0.0075},{"h":23.85,"v":0.0068},{"h":23.78,"v":0.0060},{"h":23.84,"v":0.0011},{"h":23.96,"v":0.0014}
 ]
},
"spacing": 57,
"bounds": "flush",
"resolve": {"scale": {"color": "independent"}, "legend": {"color": "independent"}},
"vconcat": [
 {
  "width": 1346, "height": 480,
  "title": {"text": "(a)", "anchor": "start", "frame": "group", "offset": 4, "fontSize": 26.5},
  "layer": [
   {"data": {"name": "shade"}, "mark": {"type": "rect", "fill": "black", "opacity": 0.1},
    "encoding": {"x": {"field": "a", "type": "quantitative", "scale": {"domain": [0, 23.97], "nice": false, "zero": false}, "title": null,
      "axis": {"values": [0,3,6,9,12,15,18,21], "labels": false, "title": null}},
     "x2": {"field": "b"}}},
   {"data": {"name": "dop"}, "mark": {"type": "area", "color": "#1f77b4", "stroke": "#1f77b4", "strokeWidth": 5, "strokeJoin": "round"},
    "encoding": {"x": {"field": "h", "type": "quantitative", "title": null},
     "y": {"field": "lo", "type": "quantitative", "scale": {"domain": [-4.82, 5.58], "nice": false, "zero": false}, "title": "Doppler Shift [Hz]",
      "axis": {"values": [-4,-2,0,2,4], "format": "d", "titleX": -49, "titleBaseline": "bottom"}},
     "y2": {"field": "hi"}, "detail": {"field": "s"}}},
   {"data": {"name": "dout"}, "mark": {"type": "point", "filled": true, "size": 36, "opacity": 1},
    "encoding": {"x": {"field": "h", "type": "quantitative", "title": null},
     "y": {"field": "v", "type": "quantitative", "title": "Doppler Shift [Hz]"},
     "color": {"datum": "Raw Data", "type": "nominal", "scale": {"domain": ["Raw Data", "Butterworth"], "range": ["#1f77b4", "#ff7f0e"]},
      "legend": {"title": null, "orient": "top-right", "offset": 9, "padding": 6, "fillColor": "rgba(255,255,255,0.8)", "strokeColor": "#cccccc", "cornerRadius": 4,
       "labelFont": "DejaVu Sans", "labelFontWeight": "bold", "labelFontSize": 18.5, "labelColor": "black", "labelOffset": 23.5, "symbolSize": 100, "symbolOffset": 11, "rowPadding": 8.5, "labelLimit": 500,
       "labelExpr": "datum.value == 'Raw Data' ? 'Raw Data' : ['Butterworth Filtered Data', '(N=6, Tc=3.3333 min, Type: low)']",
       "encoding": {"symbols": {"shape": {"value": {"expr": "datum.value == 'Raw Data' ? 'circle' : 'M-4,0H4'"}}, "size": {"value": {"expr": "datum.value == 'Raw Data' ? 40 : 100"}}, "fill": {"value": {"expr": "datum.value == 'Raw Data' ? '#1f77b4' : 'transparent'"}}, "stroke": {"value": {"expr": "datum.value == 'Raw Data' ? '#1f77b4' : '#ff7f0e'"}}, "strokeWidth": {"value": 2}, "opacity": {"value": 1}},
                    "labels": {"lineHeight": {"value": 22}, "dy": {"value": {"expr": "datum.value == 'Raw Data' ? 0 : -11"}}}}}}}},
   {"data": {"name": "dfilt"}, "mark": {"type": "line", "strokeWidth": 2},
    "encoding": {"x": {"field": "h", "type": "quantitative", "title": null},
     "y": {"field": "v", "type": "quantitative", "title": "Doppler Shift [Hz]"},
     "color": {"datum": "Butterworth", "type": "nominal"}}}
  ]
 },
 {
  "width": 1346, "height": 477,
  "title": {"text": "(b)", "anchor": "start", "frame": "group", "offset": 4, "fontSize": 26.5},
  "layer": [
   {"data": {"name": "shade"}, "mark": {"type": "rect", "fill": "black", "opacity": 0.1},
    "encoding": {"x": {"field": "a", "type": "quantitative", "scale": {"domain": [0, 23.97], "nice": false, "zero": false}, "title": "UTC",
      "axis": {"values": [0,3,6,9,12,15,18,21], "labelExpr": "'03-24 ' + (datum.value < 10 ? '0' : '') + datum.value", "labelAngle": -30, "labelAlign": "right", "labelBaseline": "top", "labelOffset": -13, "labelPadding": 4, "titlePadding": 4}},
     "x2": {"field": "b"}}},
   {"data": {"name": "vol"}, "mark": {"type": "area", "color": "#1f77b4", "stroke": "#1f77b4", "strokeWidth": 5, "strokeJoin": "round"},
    "encoding": {"x": {"field": "h", "type": "quantitative", "title": "UTC"},
     "y": {"field": "lo", "type": "quantitative", "scale": {"domain": [-0.00129, 0.02944], "nice": false, "zero": false}, "title": "Peak Voltage [V]",
      "axis": {"values": [0, 0.005, 0.01, 0.015, 0.02, 0.025], "format": ".3f", "titleX": -88, "titleBaseline": "bottom"}},
     "y2": {"field": "hi"}, "detail": {"field": "s"}}},
   {"data": {"name": "vout"}, "mark": {"type": "point", "filled": true, "size": 36, "opacity": 1},
    "encoding": {"x": {"field": "h", "type": "quantitative", "title": "UTC"},
     "y": {"field": "v", "type": "quantitative", "title": "Peak Voltage [V]"},
     "color": {"datum": "Raw Data", "type": "nominal", "scale": {"domain": ["Raw Data", "Butterworth"], "range": ["#1f77b4", "#ff7f0e"]},
      "legend": {"title": null, "orient": "top-right", "offset": 9, "padding": 6, "fillColor": "rgba(255,255,255,0.8)", "strokeColor": "#cccccc", "cornerRadius": 4,
       "labelFont": "DejaVu Sans", "labelFontWeight": "bold", "labelFontSize": 18.5, "labelColor": "black", "labelOffset": 23.5, "symbolSize": 100, "symbolOffset": 11, "rowPadding": 8.5, "labelLimit": 500,
       "labelExpr": "datum.value == 'Raw Data' ? 'Raw Data' : ['Butterworth Filtered Data', '(N=6, Tc=3.3333 min, Type: low)']",
       "encoding": {"symbols": {"shape": {"value": {"expr": "datum.value == 'Raw Data' ? 'circle' : 'M-4,0H4'"}}, "size": {"value": {"expr": "datum.value == 'Raw Data' ? 40 : 100"}}, "fill": {"value": {"expr": "datum.value == 'Raw Data' ? '#1f77b4' : 'transparent'"}}, "stroke": {"value": {"expr": "datum.value == 'Raw Data' ? '#1f77b4' : '#ff7f0e'"}}, "strokeWidth": {"value": 2}, "opacity": {"value": 1}},
                    "labels": {"lineHeight": {"value": 22}, "dy": {"value": {"expr": "datum.value == 'Raw Data' ? 0 : -11"}}}}}}}},
   {"data": {"name": "vfilt"}, "mark": {"type": "line", "strokeWidth": 2},
    "encoding": {"x": {"field": "h", "type": "quantitative", "title": "UTC"},
     "y": {"field": "v", "type": "quantitative", "title": "Peak Voltage [V]"},
     "color": {"datum": "Butterworth", "type": "nominal"}}}
  ]
 }
]
}
